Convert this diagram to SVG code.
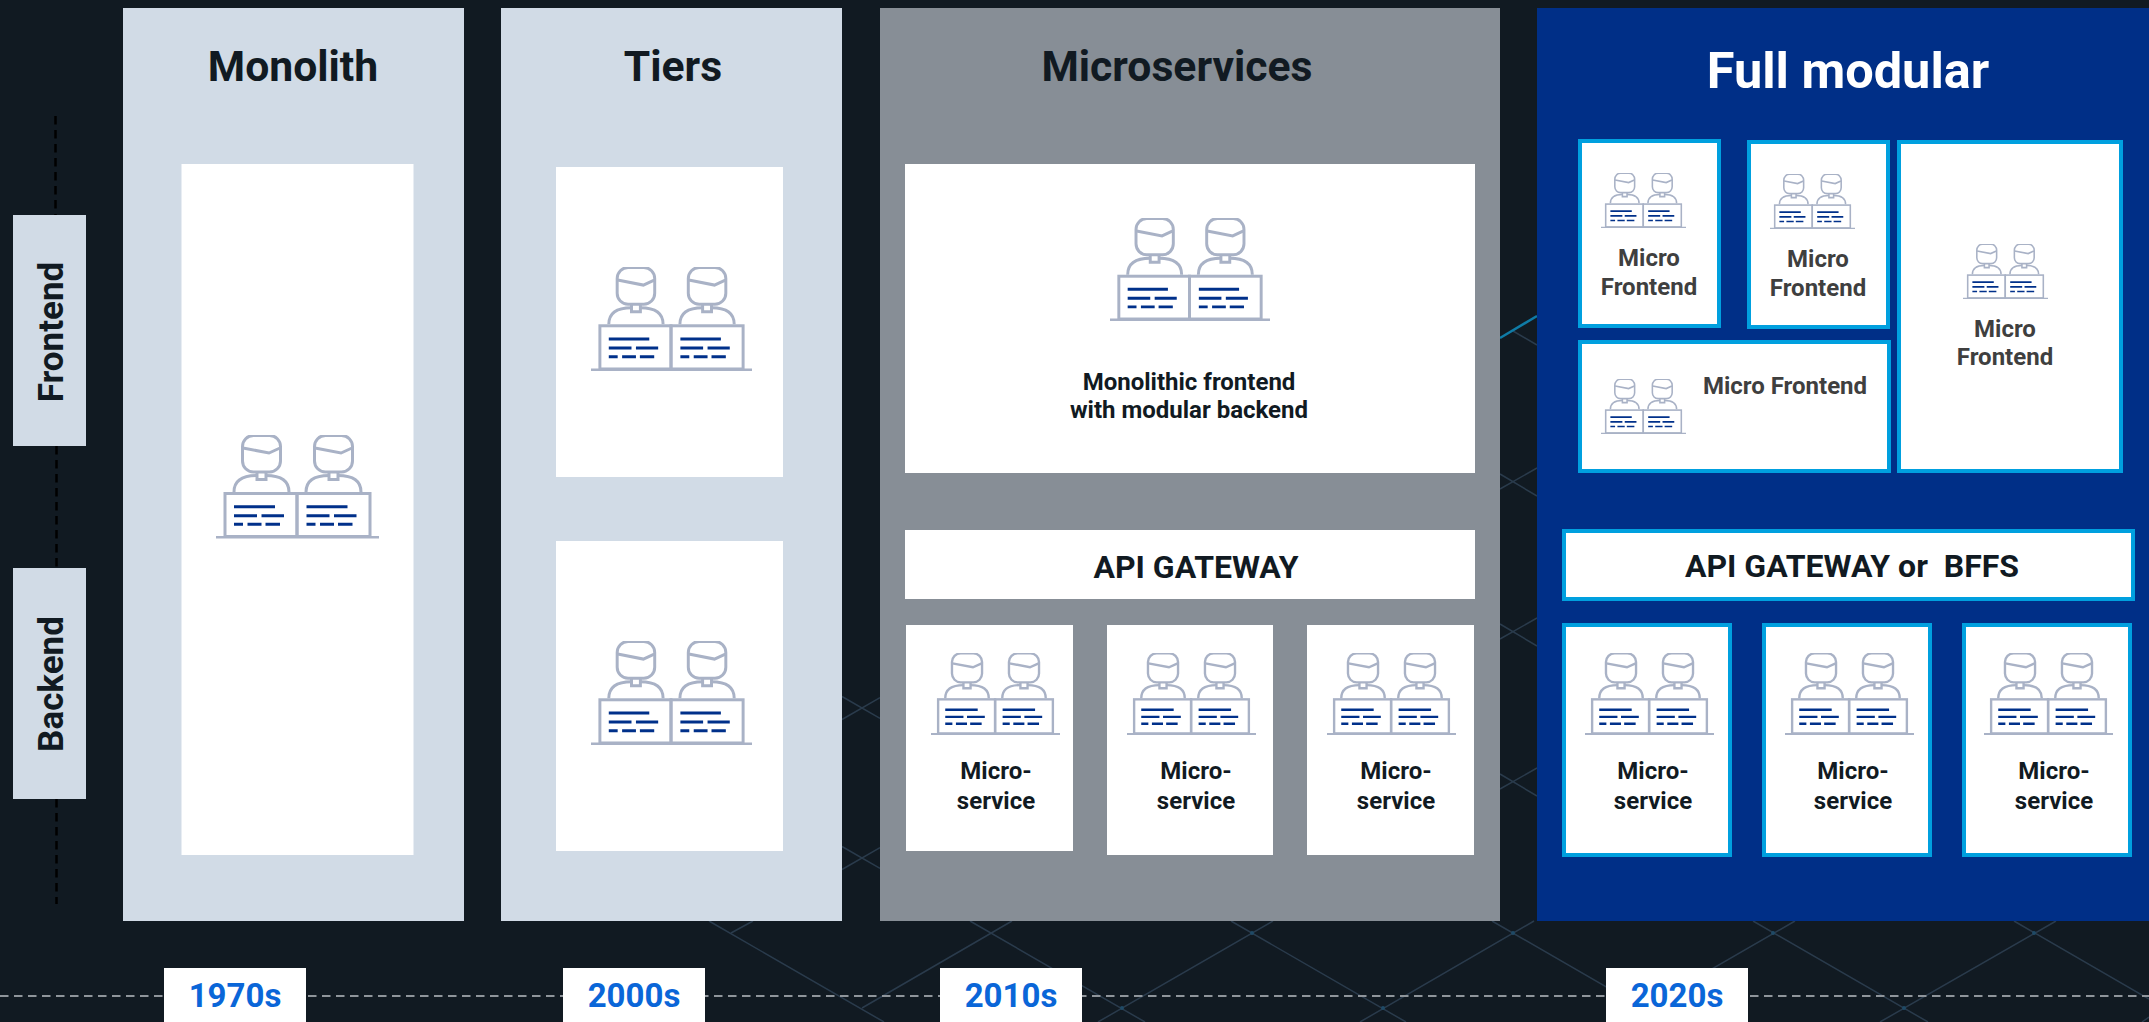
<svg xmlns="http://www.w3.org/2000/svg" width="2149" height="1022" viewBox="0 0 2149 1022">
<style>
text{font-family:Roboto,"Liberation Sans",sans-serif;font-weight:700;text-anchor:middle}
.bg{stroke:#2a3b4c;stroke-width:1.5;fill:none}
.head{font-size:42.700px;fill:#111a22}
.lab{font-size:24px;fill:#111a22}
.mf{font-size:24px;fill:#3f3f3f}
.api{font-size:32px;fill:#111a22;white-space:pre}
.yr{font-size:33px;fill:#0a66d8}
.side{font-size:35px;fill:#111a22}
.white{fill:#fff}
.mfb{fill:#fff;stroke:#00a0df;stroke-width:4}
</style>
<defs>
<symbol id="icon" viewBox="16 25 163 103.5" preserveAspectRatio="none">
<g fill="none" stroke="#a9b2c6" stroke-width="3">
<rect x="42.5" y="25.5" width="38" height="36.5" rx="11"/><path d="M43 38l26 5 11-5"/><path d="M57 62v7.5h9V62"/><path d="M34 82c0-11 7-16.500 23-16.500M66 65.500c16 0 23 5.500 23 16.500"/>
<rect x="114.500" y="25.500" width="38" height="36.500" rx="11"/><path d="M115 38l26 5 11-5"/><path d="M129 62v7.500h9V62"/><path d="M106 82c0-11 7-16.500 23-16.500M138 65.500c16 0 23 5.500 23 16.500"/>
<rect x="25" y="83.500" width="72" height="43"/><rect x="97" y="83.500" width="73" height="43"/><path d="M16 127.500H179"/>
</g>
<path stroke="#00308a" stroke-width="3" fill="none" d="M34 96.700h41M34 105.700h23M61.500 105.700H84M34 114.300h9M47.500 114.300h14M65.500 114.300H80M106.500 96.700h41M106.500 105.700h23M134 105.700h22.500M106.500 114.300h9M120 114.300h14M138 114.300h14.500"/>
</symbol>
</defs>
<rect width="2149" height="1022" fill="#111a22"/>
<g id="connectors">
<path class="bg" d="M709 921L884 1022M970 921L1145 1022M1231 921L1406 1022M1492 921L1667 1022M1753 921L1928 1022M2014 921L2149 999"/>
<path class="bg" d="M753 921L731 933M1012 921L862 1008M1273 921L1098 1022M1534 921L1360 1022M1795 921L1620 1022M2056 921L1880 1022M2149 1017L2142 1022"/>
<path class="bg" d="M842 696.500L880 718.400M842 719.500L880 697.600M842 846.500L880 868.400M842 869.500L880 847.600"/>
<path class="bg" d="M1500 474L1537 496M1500 489L1537 468M1500 624L1537 646M1500 639L1537 618M1500 774L1537 796M1500 789L1537 768M1513 331L1537 345"/>
<path d="M1500 338L1537 316" stroke="#0f7ba6" stroke-width="2.500" fill="none"/>
<path d="M1252 933h0M1513 933h0M1773 933h0M2034 933h0M1122 1008h0M1383 1008h0M1904 1008h0" stroke="#1f4a66" stroke-width="4" stroke-linecap="round" fill="none"/>
</g>
<path d="M55.500 116V215M56.500 446V568M56.500 799V904" stroke="#000" stroke-width="2.500" stroke-dasharray="8.500 5.500" fill="none"/>
<path d="M0 996H2149" stroke="#8f959b" stroke-width="2" stroke-dasharray="8.500 5.500" fill="none"/>
<g id="monolith"><rect x="123" y="8" width="341" height="913" fill="#d1dbe6"/><text class="head" x="293" y="81">Monolith</text><rect class="white" x="181.500" y="164" width="232" height="691"/><use href="#icon" x="216" y="435" width="163" height="103.500"/></g>
<g id="tiers"><rect x="501" y="8" width="341" height="913" fill="#d1dbe6"/><text class="head" x="673" y="81">Tiers</text><rect class="white" x="556" y="167" width="227" height="310"/><use href="#icon" x="591" y="267" width="161" height="104"/><rect class="white" x="556" y="541" width="227" height="310"/><use href="#icon" x="591" y="641" width="161" height="104"/></g>
<g id="microservices"><rect x="880" y="8" width="620" height="913" fill="#878e96"/><text class="head" x="1177" y="81">Microservices</text><rect class="white" x="905" y="164" width="570" height="309"/><use href="#icon" x="1110" y="218" width="160" height="103"/><text class="lab" x="1189" y="390">Monolithic frontend</text><text class="lab" x="1189" y="418">with modular backend</text><rect class="white" x="905" y="530" width="570" height="69"/><text class="api" x="1196" y="578">API GATEWAY</text>
<rect class="white" x="906" y="625" width="167" height="226"/><use href="#icon" x="931" y="653" width="129" height="82"/><text class="lab" x="996" y="779">Micro-</text><text class="lab" x="996" y="809">service</text>
<rect class="white" x="1107" y="625" width="166" height="230"/><use href="#icon" x="1127" y="653" width="129" height="82"/><text class="lab" x="1196" y="779">Micro-</text><text class="lab" x="1196" y="809">service</text>
<rect class="white" x="1307" y="625" width="167" height="230"/><use href="#icon" x="1327" y="653" width="129" height="82"/><text class="lab" x="1396" y="779">Micro-</text><text class="lab" x="1396" y="809">service</text></g>
<g id="fullmodular"><rect x="1537" y="8" width="612" height="913" fill="#002f87"/><text x="1848" y="88" style="font-size:50.500px;fill:#fff">Full modular</text>
<rect class="mfb" x="1580" y="141" width="139" height="185"/><use href="#icon" x="1601" y="173" width="85" height="55"/><text class="mf" x="1649" y="266">Micro</text><text class="mf" x="1649" y="295">Frontend</text>
<rect class="mfb" x="1749" y="142" width="139" height="185"/><use href="#icon" x="1770" y="174" width="85" height="55"/><text class="mf" x="1818" y="267">Micro</text><text class="mf" x="1818" y="296">Frontend</text>
<rect class="mfb" x="1580" y="342" width="309" height="129"/><use href="#icon" x="1601" y="379" width="85" height="55"/><text class="mf" x="1785" y="394">Micro Frontend</text>
<rect class="mfb" x="1899" y="142" width="222" height="329"/><use href="#icon" x="1963" y="244" width="85" height="55"/><text class="mf" x="2005" y="337">Micro</text><text class="mf" x="2005" y="365">Frontend</text>
<rect class="mfb" x="1564" y="531" width="569" height="68"/><text class="api" x="1852" y="577">API GATEWAY or  BFFS</text>
<rect class="mfb" x="1564" y="625" width="166" height="230"/><use href="#icon" x="1585" y="653" width="129" height="82"/><text class="lab" x="1653" y="779">Micro-</text><text class="lab" x="1653" y="809">service</text>
<rect class="mfb" x="1764" y="625" width="166" height="230"/><use href="#icon" x="1785" y="653" width="129" height="82"/><text class="lab" x="1853" y="779">Micro-</text><text class="lab" x="1853" y="809">service</text>
<rect class="mfb" x="1964" y="625" width="166" height="230"/><use href="#icon" x="1984" y="653" width="129" height="82"/><text class="lab" x="2054" y="779">Micro-</text><text class="lab" x="2054" y="809">service</text></g>
<g id="frontend"><rect x="13" y="215" width="73" height="231" fill="#d1dbe6"/><text class="side" transform="translate(62.500 332) rotate(-90)">Frontend</text></g>
<g id="backend"><rect x="13" y="568" width="73" height="231" fill="#d1dbe6"/><text class="side" transform="translate(62.500 684) rotate(-90)">Backend</text></g>
<g id="y1970"><rect class="white" x="164" y="968" width="142" height="54"/><text class="yr" x="235" y="1007">1970s</text></g>
<g id="y2000"><rect class="white" x="563" y="968" width="142" height="54"/><text class="yr" x="634" y="1007">2000s</text></g>
<g id="y2010"><rect class="white" x="940" y="968" width="142" height="54"/><text class="yr" x="1011" y="1007">2010s</text></g>
<g id="y2020"><rect class="white" x="1606" y="968" width="142" height="54"/><text class="yr" x="1677" y="1007">2020s</text></g>
</svg>
